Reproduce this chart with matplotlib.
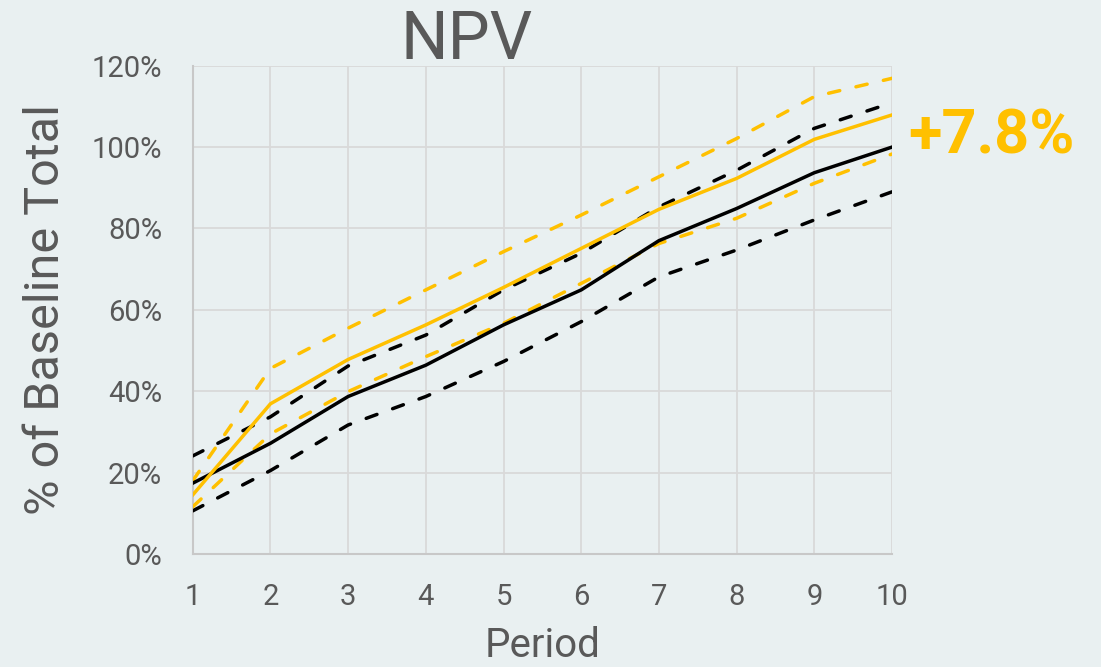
import matplotlib
matplotlib.use("Agg")
import matplotlib.pyplot as plt
from matplotlib.ticker import PercentFormatter

periods = [1, 2, 3, 4, 5, 6, 7, 8, 9, 10]
baseline = [17.4, 27.2, 38.7, 46.4, 56.3, 64.9, 77.0, 84.9, 93.7, 100.0]
baseline_hi = [24.1, 33.7, 46.2, 53.8, 64.9, 73.9, 85.3, 94.3, 104.6, 110.9]
baseline_lo = [10.6, 20.5, 31.7, 38.7, 47.3, 57.1, 68.1, 74.7, 82.1, 89.0]
scenario = [14.5, 36.9, 47.8, 56.3, 65.5, 75.1, 84.7, 92.3, 101.9, 107.9]
scenario_hi = [18.0, 45.6, 55.5, 64.9, 74.3, 83.3, 92.7, 102.1, 112.4, 116.9]
scenario_lo = [11.6, 29.5, 39.9, 48.5, 56.7, 66.5, 76.3, 82.5, 91.1, 98.3]
y_ticks = [0, 20, 40, 60, 80, 100, 120]
title = "NPV"
delta_label = "+7.8%"

BG = "#E9F0F1"
GOLD = "#FFC000"
TXT = "#595959"
FONT = "Roboto"

W, H = 1101, 667
fig = plt.figure(figsize=(W / 100, H / 100), dpi=100, facecolor=BG)
ax = fig.add_axes([192.7 / W, 1 - 554 / H, (892 - 192.7) / W, (554 - 65.7) / H])
ax.set_facecolor(BG)

lw = 2.5
dash = (3.3, 4.8)
dkw = dict(lw=lw, dashes=dash, dash_capstyle="round", zorder=3)
ax.plot(periods, baseline_hi, color="black", **dkw)
ax.plot(periods, baseline_lo, color="black", **dkw)
ax.plot(periods, scenario_hi, color=GOLD, **dkw)
ax.plot(periods, scenario_lo, color=GOLD, **dkw)
ax.plot(periods, baseline, color="black", lw=lw, zorder=4)
ax.plot(periods, scenario, color=GOLD, lw=lw, zorder=4)

ax.set_xlim(periods[0], periods[-1])
ax.set_ylim(y_ticks[0], y_ticks[-1])
ax.set_xticks(periods)
ax.set_yticks(y_ticks)
ax.yaxis.set_major_formatter(PercentFormatter(decimals=0))
ax.grid(True, color="#D9D9D9", lw=1.3, zorder=0)
ax.set_axisbelow(True)
for s in ["top", "right"]:
    ax.spines[s].set_visible(False)
for s in ["left", "bottom"]:
    ax.spines[s].set_color("#C8C8C8")
    ax.spines[s].set_linewidth(1.5)
ax.tick_params(length=0, colors=TXT, labelsize=21)
ax.tick_params(axis="x", pad=21)
ax.tick_params(axis="y", pad=22)
for lab in ax.get_xticklabels() + ax.get_yticklabels():
    lab.set_fontfamily(FONT)
    lab.set_fontweight("normal")

ax.set_xlabel("Period", fontsize=29, color=TXT, family=FONT, fontweight="normal", labelpad=11)
ax.set_ylabel("% of Baseline Total", fontsize=35, color=TXT, family=FONT, fontweight="normal", labelpad=16)

fig.text(467 / W, 1 - 59 / H, title, fontsize=48, color=TXT, family=FONT, ha="center", va="baseline")
fig.text(908 / W, 1 - 153 / H, delta_label, fontsize=44, color=GOLD, family=FONT, fontweight="bold",
         ha="left", va="baseline")

fig.savefig("out.png", dpi=100, facecolor=BG)
